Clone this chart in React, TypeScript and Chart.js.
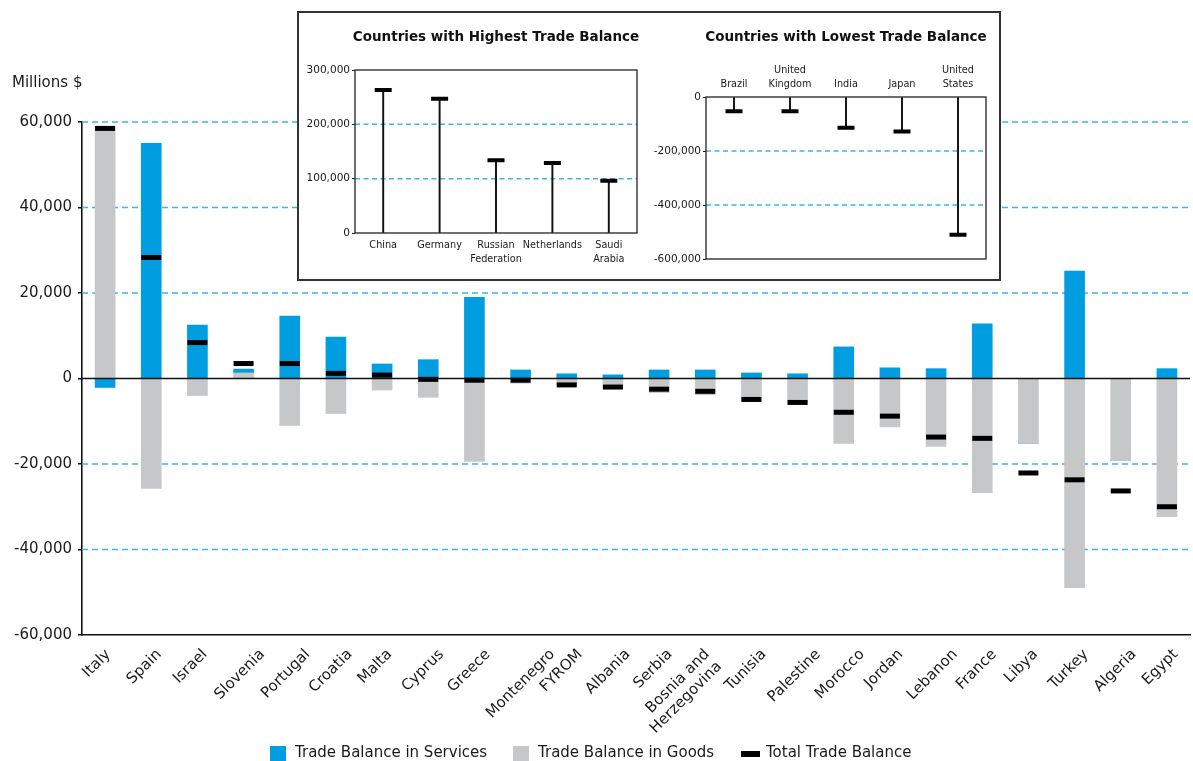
import React, { useEffect, useRef } from "react";
import { Chart, registerables } from "chart.js";

Chart.register(...registerables);

// ---------- DATA ----------
const countries: (string | string[])[] = [
  "Italy", "Spain", "Israel", "Slovenia", "Portugal", "Croatia", "Malta", "Cyprus",
  "Greece", "Montenegro", "FYROM", "Albania", "Serbia", ["Bosnia and", "Herzegovina"],
  "Tunisia", "Palestine", "Morocco", "Jordan", "Lebanon", "France", "Libya", "Turkey",
  "Algeria", "Egypt",
];
const servicesBalance = [
  -2100, 55000, 12500, 900, 14600, 9700, 3400, 4400, 19000, 2000, 1100, 850, 2000,
  2000, 1300, 1100, 7400, 2500, 2300, 12800, 0, 25100, 0, 2300,
];
const goodsBalance = [
  58800, -25700, -4000, 1300, -11000, -8200, -2700, -4400, -19400, -1100, -1700,
  -2100, -3300, -3800, -5300, -6000, -15200, -11300, -15900, -26700, -15200, -48900,
  -19200, -32300,
];
const totalBalance = [
  58500, 28300, 8400, 3500, 3500, 1200, 800, -200, -400, -400, -1500, -2000, -2500,
  -3000, -4900, -5600, -7900, -8800, -13700, -14000, -22100, -23700, -26300, -30000,
];
const mainGridValues = [60000, 40000, 20000, -20000, -40000];

const highCountries: (string | string[])[] = [
  "China", "Germany", ["Russian", "Federation"], "Netherlands", ["Saudi", "Arabia"],
];
const highValues = [263000, 247000, 134000, 129000, 96000];
const highGridValues = [200000, 100000];

const lowCountries: (string | string[])[] = [
  "Brazil", ["United", "Kingdom"], "India", "Japan", ["United", "States"],
];
const lowValues = [-53000, -53000, -114000, -128000, -510000];
const lowGridValues = [-200000, -400000];

// ---------- STYLE ----------
const FONT = "'DejaVu Sans', sans-serif";
const TEXT = "#1a1a1a";
const BLUE = "#009ee0";
const GRAY = "#c6c7c9";
const GRID_BLUE = "#3db5e8";

const fmt = (v: any) => Number(v).toLocaleString("en-US");

const mainGridPlugin = {
  id: "mainGrid",
  beforeDraw(chart: any) {
    // nudge rotated category labels so their layout resembles the original
    const sx = chart.scales.x;
    if (!sx || typeof sx.getLabelItems !== "function") return;
    const items = sx.getLabelItems(chart.chartArea);
    const ctx = chart.ctx;
    ctx.save();
    for (const it of items) {
      if (it.__shifted) continue;
      it.__shifted = true;
      const lines = Array.isArray(it.label) ? it.label : [it.label];
      if (lines.length > 1) continue;
      ctx.font = it.font.string;
      const w = ctx.measureText(String(lines[0])).width;
      const d = Math.max(0, 0.5 * w - 15);
      const t = it.options.translation;
      it.options.translation = [t[0] + d, t[1]];
    }
    ctx.restore();
  },
  beforeDatasetsDraw(chart: any) {
    const { ctx, chartArea, scales } = chart;
    const y = scales.y;
    ctx.save();
    ctx.strokeStyle = GRID_BLUE;
    ctx.lineWidth = 1.4;
    ctx.setLineDash([6, 4]);
    for (const v of mainGridValues) {
      const py = y.getPixelForValue(v);
      ctx.beginPath();
      ctx.moveTo(chartArea.left, py);
      ctx.lineTo(chartArea.right, py);
      ctx.stroke();
    }
    ctx.restore();
  },
  afterDatasetsDraw(chart: any) {
    const { ctx, chartArea, scales } = chart;
    const py = scales.y.getPixelForValue(0);
    ctx.save();
    ctx.strokeStyle = "#111";
    ctx.lineWidth = 1.6;
    ctx.beginPath();
    ctx.moveTo(chartArea.left, py);
    ctx.lineTo(chartArea.right, py);
    ctx.stroke();
    ctx.restore();
  },
};

const insetPlugin = {
  id: "insetDeco",
  beforeDatasetsDraw(chart: any, _args: any, opts: any) {
    const { ctx, chartArea, scales } = chart;
    ctx.save();
    ctx.strokeStyle = GRID_BLUE;
    ctx.lineWidth = 1.5;
    ctx.setLineDash([5, 3.5]);
    const vals: number[] = opts.gridValues || [];
    for (let i = 0; i < vals.length; i++) {
      const py = scales.y.getPixelForValue(vals[i]);
      ctx.beginPath();
      ctx.moveTo(chartArea.left, py);
      ctx.lineTo(chartArea.right, py);
      ctx.stroke();
    }
    ctx.restore();
  },
  afterDraw(chart: any, _args: any, opts: any) {
    const { ctx, chartArea } = chart;
    ctx.save();
    ctx.strokeStyle = "#222";
    ctx.lineWidth = 1.3;
    ctx.strokeRect(chartArea.left, chartArea.top, chartArea.right - chartArea.left, chartArea.bottom - chartArea.top);
    ctx.fillStyle = "#111";
    ctx.font = `bold 13.5px ${FONT}`;
    ctx.textAlign = "center";
    ctx.textBaseline = "middle";
    ctx.fillText(opts.title, (chartArea.left + chartArea.right) / 2, opts.titleY);
    ctx.restore();
  },
};

function makeInset(
  canvas: HTMLCanvasElement,
  labels: (string | string[])[],
  values: number[],
  cfg: {
    min: number; max: number; step: number; gridValues: number[]; title: string;
    xPos: "top" | "bottom"; padding: any; yWidth: number; xHeight: number; titleY: number;
  }
) {
  return new Chart(canvas, {
    type: "bar",
    data: {
      labels: labels as any,
      datasets: [
        {
          type: "line",
          label: "cap",
          data: values,
          showLine: false,
          pointStyle: "line",
          pointRadius: 8.5,
          pointHoverRadius: 8.5,
          pointBorderWidth: 4,
          pointBorderColor: "#000",
          borderColor: "#000",
          backgroundColor: "#000",
          order: 0,
        } as any,
        {
          label: "stem",
          data: values,
          backgroundColor: "#111",
          barThickness: 1.3,
          order: 1,
        },
      ],
    },
    options: {
      responsive: false,
      animation: false,
      events: [],
      layout: { padding: cfg.padding },
      plugins: {
        legend: { display: false },
        tooltip: { enabled: false },
        insetDeco: { gridValues: cfg.gridValues, title: cfg.title, titleY: cfg.titleY },
      } as any,
      scales: {
        x: {
          position: cfg.xPos,
          offset: true,
          grid: { display: false, drawTicks: false },
          border: { display: false },
          ticks: {
            autoSkip: false,
            maxRotation: 0,
            minRotation: 0,
            padding: 5,
            color: TEXT,
            font: { family: FONT, size: 9.7, lineHeight: 1.45 },
          },
          afterFit: (s: any) => { s.height = cfg.xHeight; },
        },
        y: {
          min: cfg.min,
          max: cfg.max,
          ticks: {
            stepSize: cfg.step,
            padding: 2,
            color: TEXT,
            font: { family: FONT, size: 10.5 },
            callback: fmt,
          },
          grid: { drawOnChartArea: false, drawTicks: true, tickLength: 3, color: "#222", lineWidth: 1 },
          border: { display: false },
          afterFit: (s: any) => { s.width = cfg.yWidth; },
        },
      },
    },
    plugins: [insetPlugin],
  });
}

export default function App() {
  const mainRef = useRef<HTMLCanvasElement>(null);
  const highRef = useRef<HTMLCanvasElement>(null);
  const lowRef = useRef<HTMLCanvasElement>(null);

  useEffect(() => {
    const charts: Chart[] = [];
    if (mainRef.current) {
      charts.push(
        new Chart(mainRef.current, {
          type: "bar",
          data: {
            labels: countries as any,
            datasets: [
              {
                label: "Trade Balance in Goods",
                data: goodsBalance,
                backgroundColor: GRAY,
                barThickness: 20,
                order: 1,
              },
              {
                label: "Trade Balance in Services",
                data: servicesBalance,
                backgroundColor: BLUE,
                barThickness: 20,
                order: 2,
              },
              {
                type: "line",
                label: "Total Trade Balance",
                data: totalBalance,
                stack: "total",
                showLine: false,
                pointStyle: "line",
                pointRadius: 10,
                pointHoverRadius: 10,
                pointBorderWidth: 5,
                pointBorderColor: "#000",
                borderColor: "#000",
                backgroundColor: "#000",
                order: 0,
              } as any,
            ],
          },
          options: {
            responsive: false,
            animation: false,
            events: [],
            layout: { padding: { left: 0, right: 0, top: 122, bottom: 0 } },
            plugins: {
              legend: { display: false },
              tooltip: { enabled: false },
            },
            scales: {
              x: {
                stacked: true,
                offset: true,
                grid: { display: false, drawTicks: false },
                border: { display: true, color: "#111", width: 1.6 },
                ticks: {
                  autoSkip: false,
                  maxRotation: 45,
                  minRotation: 45,
                  padding: 11,
                  labelOffset: 2,
                  color: TEXT,
                  font: { family: FONT, size: 15, lineHeight: 1.15 },
                },
                afterFit: (s: any) => { s.height = 126; },
              },
              y: {
                stacked: true,
                min: -60000,
                max: 60000,
                ticks: {
                  stepSize: 20000,
                  padding: 6,
                  color: TEXT,
                  font: { family: FONT, size: 15 },
                  callback: fmt,
                },
                grid: { drawOnChartArea: false, drawTicks: true, tickLength: 4, color: "#111", lineWidth: 1.5 },
                border: { display: true, color: "#111", width: 1.6 },
                afterFit: (s: any) => { s.width = 82; },
              },
            },
          },
          plugins: [mainGridPlugin],
        })
      );
    }
    if (highRef.current) {
      charts.push(
        makeInset(highRef.current, highCountries, highValues, {
          min: 0, max: 300000, step: 100000, gridValues: highGridValues,
          title: "Countries with Highest Trade Balance", xPos: "bottom",
          padding: { left: 0, right: 13, top: 57, bottom: 0 }, yWidth: 55, xHeight: 46, titleY: 24.5,
        })
      );
    }
    if (lowRef.current) {
      charts.push(
        makeInset(lowRef.current, lowCountries, lowValues, {
          min: -600000, max: 0, step: 200000, gridValues: lowGridValues,
          title: "Countries with Lowest Trade Balance", xPos: "top",
          padding: { left: 0, right: 13, top: 0, bottom: 20 }, yWidth: 56, xHeight: 84, titleY: 24.5,
        })
      );
    }
    return () => charts.forEach((c) => c.destroy());
  }, []);

  const legendText: React.CSSProperties = {
    position: "absolute",
    top: 745,
    fontFamily: FONT,
    fontSize: 15,
    lineHeight: "15px",
    color: TEXT,
    whiteSpace: "nowrap",
  };

  return (
    <div
      style={{
        position: "fixed",
        left: 0,
        top: 0,
        width: 1193,
        height: 761,
        overflow: "hidden",
        background: "#fff",
      }}
    >
      <canvas
        ref={mainRef}
        width={1205}
        height={761}
        style={{ position: "absolute", left: 0, top: 0, width: 1205, height: 761 }}
      />
      <div
        style={{
          position: "absolute",
          left: 12,
          top: 74.5,
          fontFamily: FONT,
          fontSize: 15,
          lineHeight: "15px",
          color: TEXT,
          whiteSpace: "nowrap",
        }}
      >
        Millions $
      </div>
      <div
        style={{
          position: "absolute",
          left: 297,
          top: 11,
          width: 704,
          height: 270,
          border: "2px solid #333",
          boxSizing: "border-box",
          background: "#fff",
        }}
      />
      <canvas
        ref={highRef}
        width={350}
        height={266}
        style={{ position: "absolute", left: 300, top: 13, width: 350, height: 266 }}
      />
      <canvas
        ref={lowRef}
        width={349}
        height={266}
        style={{ position: "absolute", left: 650, top: 13, width: 349, height: 266 }}
      />
      {/* Legend */}
      <div style={{ position: "absolute", left: 270, top: 746, width: 16, height: 15, background: BLUE }} />
      <div style={{ ...legendText, left: 295 }}>Trade Balance in Services</div>
      <div style={{ position: "absolute", left: 513, top: 746, width: 16, height: 15, background: GRAY }} />
      <div style={{ ...legendText, left: 538 }}>Trade Balance in Goods</div>
      <div style={{ position: "absolute", left: 741, top: 751, width: 19, height: 6, background: "#000" }} />
      <div style={{ ...legendText, left: 766 }}>Total Trade Balance</div>
    </div>
  );
}
